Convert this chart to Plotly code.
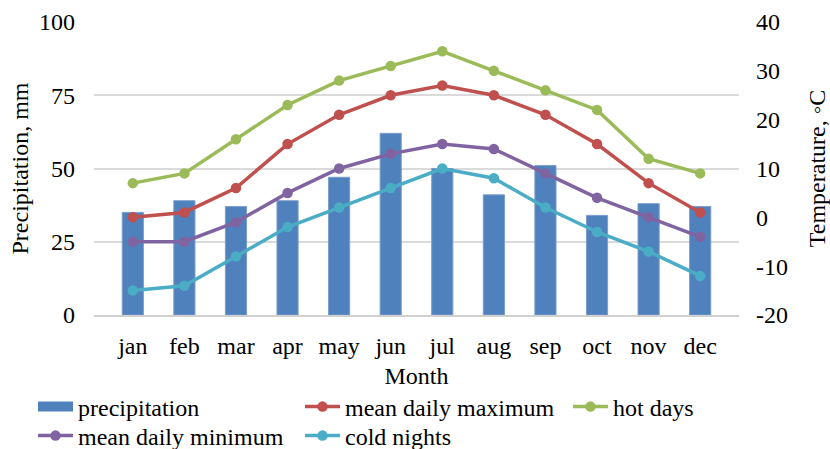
import plotly.graph_objects as go

# Monthly climate normals
months = ["jan", "feb", "mar", "apr", "may", "jun",
          "jul", "aug", "sep", "oct", "nov", "dec"]
precipitation = [35, 39, 37, 39, 47, 62, 50, 41, 51, 34, 38, 37]
mean_daily_max = [0, 1, 6, 15, 21, 25, 27, 25, 21, 15, 7, 1]
hot_days = [7, 9, 16, 23, 28, 31, 34, 30, 26, 22, 12, 9]
mean_daily_min = [-5, -5, -1, 5, 10, 13, 15, 14, 9, 4, 0, -4]
cold_nights = [-15, -14, -8, -2, 2, 6, 10, 8, 2, -3, -7, -12]

precip_ticks = [0, 25, 50, 75, 100]
temp_ticks = [-20, -10, 0, 10, 20, 30, 40]
temp_tick_labels = ["-20", "-10", "0", "10", "20", "30", "40"]

FONT = "Liberation Serif, Times New Roman, serif"
FS = 24
BAR_BLUE = "#4F81BD"

fig = go.Figure()

fig.add_trace(go.Bar(
    x=months, y=precipitation, name="precipitation",
    marker=dict(color=BAR_BLUE, line=dict(color="#7A9DCB", width=1)),
    width=0.41, yaxis="y", legendgroup="precip", showlegend=False,
))
# wide rectangular legend key for the precipitation bars
fig.add_trace(go.Scatter(
    x=[None], y=[None], mode="lines", name="precipitation",
    line=dict(color=BAR_BLUE, width=16), legendgroup="precip",
    legend="legend", hoverinfo="skip",
))

line_series = [
    ("mean daily maximum", mean_daily_max, "#C0504D", "legend"),
    ("hot days", hot_days, "#9BBB59", "legend3"),
    ("mean daily minimum", mean_daily_min, "#8064A2", "legend2"),
    ("cold nights", cold_nights, "#4BACC6", "legend2"),
]
for name, vals, color, lg in line_series:
    fig.add_trace(go.Scatter(
        x=months, y=vals, name=name, mode="lines+markers",
        line=dict(color=color, width=3.5),
        marker=dict(color=color, size=10.5),
        yaxis="y2", legend=lg,
    ))

W, H = 830, 449
ML, MR, MT, MB = 94, 91, 22, 134
pw = W - ML - MR
ph = H - MT - MB


def px_x(px):
    return (px - ML) / pw


def px_y(py):
    return (H - MB - py) / ph


legend_common = dict(
    orientation="h", xanchor="left", yanchor="middle",
    font=dict(family=FONT, size=FS, color="black"),
    bgcolor="rgba(0,0,0,0)", borderwidth=0,
    itemwidth=35,
    entrywidthmode="pixels", entrywidth=217,
    itemclick=False, itemdoubleclick=False,
)

fig.update_layout(
    width=W, height=H,
    margin=dict(l=ML, r=MR, t=MT, b=MB, autoexpand=False),
    paper_bgcolor="white", plot_bgcolor="white",
    font=dict(family=FONT, size=FS, color="black"),
    xaxis=dict(
        categoryorder="array", categoryarray=months,
        showgrid=False, zeroline=False,
        showline=True, linecolor="#D0D0D0", linewidth=1.5,
        ticks="", ticklabelstandoff=8,
        tickfont=dict(family=FONT, size=FS, color="black"),
        title=dict(text="Month", standoff=10,
                   font=dict(family=FONT, size=FS, color="black")),
    ),
    yaxis=dict(
        range=[0, 100], tickvals=precip_ticks,
        showgrid=True, gridcolor="#DADADA", gridwidth=1.5,
        zeroline=False, showline=False, ticks="",
        ticklabelstandoff=18,
        tickfont=dict(family=FONT, size=FS, color="black"),
        title=dict(text="Precipitation, mm", standoff=3,
                   font=dict(family=FONT, size=FS, color="black")),
    ),
    yaxis2=dict(
        range=[-20, 40], tickvals=temp_ticks, ticktext=temp_tick_labels,
        overlaying="y", side="right",
        showgrid=False, zeroline=False, showline=False, ticks="",
        ticklabelstandoff=16,
        tickfont=dict(family=FONT, size=FS, color="black"),
        title=dict(text="Temperature, ◦C", standoff=23,
                   font=dict(family=FONT, size=FS, color="black")),
    ),
    legend=dict(x=px_x(33), y=px_y(407), **legend_common),
    legend2=dict(x=px_x(33), y=px_y(436), **legend_common),
    legend3=dict(x=px_x(568), y=px_y(407), **legend_common),
)

fig.write_html("out.html")
